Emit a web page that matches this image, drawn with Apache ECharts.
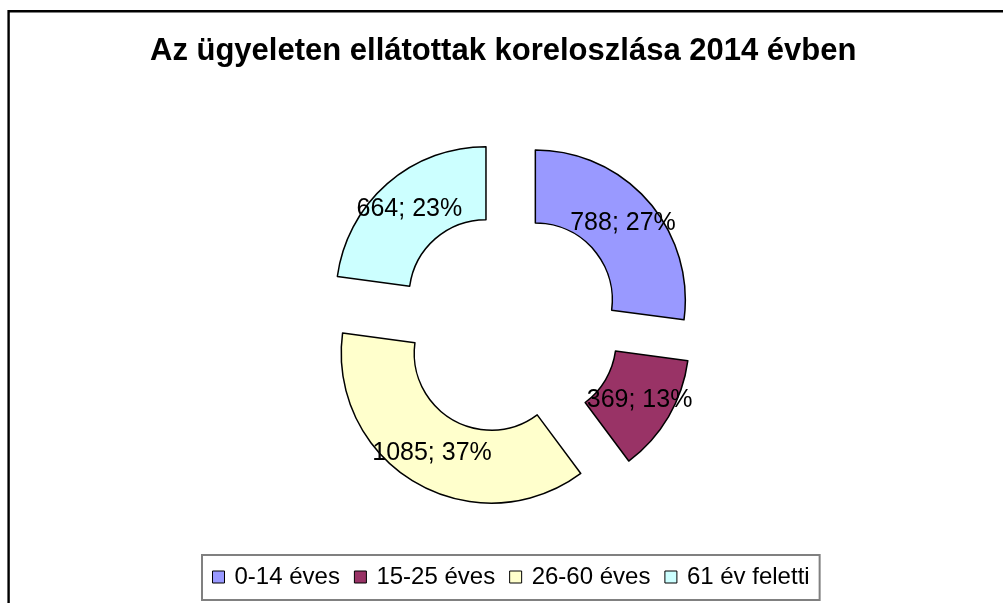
<!DOCTYPE html>
<html>
<head>
<meta charset="utf-8">
<script src="https://cdn.jsdelivr.net/npm/echarts@6/dist/echarts.min.js"></script>
<style>
  html, body { margin: 0; padding: 0; background: #ffffff; }
  #chart { width: 1003px; height: 603px; }
</style>
</head>
<body>
<div id="chart"></div>
<script>
const titleText = 'Az ügyeleten ellátottak koreloszlása 2014 évben';
const categories = ['0-14 éves', '15-25 éves', '26-60 éves', '61 év feletti'];
const values = [788, 369, 1085, 664];
const colors = ['#9999FF', '#993366', '#FFFFCC', '#CCFFFF'];

const FONT = '"Liberation Sans", Arial, sans-serif';

const chart = echarts.init(document.getElementById('chart'), null, { renderer: 'canvas' });

const pieData = categories.map((name, i) => ({
  name: name,
  value: values[i],
  selected: true,
  itemStyle: { color: colors[i] }
}));

chart.setOption({
  animation: false,
  backgroundColor: '#ffffff',
  color: colors,
  title: {
    text: titleText,
    left: 150,
    top: 36,
    padding: 0,
    textStyle: { fontFamily: FONT, fontSize: 31, fontWeight: 'bold', color: '#000000' }
  },
  legend: {
    data: categories,
    orient: 'horizontal',
    left: 202,
    top: 555,
    padding: [10, 10, 11, 10],
    itemGap: 14,
    itemWidth: 12,
    itemHeight: 12,
    icon: 'rect',
    borderColor: '#808080',
    borderWidth: 2,
    selectedMode: false,
    itemStyle: { borderColor: '#000000', borderWidth: 1 },
    textStyle: { fontFamily: FONT, fontSize: 24, color: '#000000', padding: [0, 0, 0, 5] }
  },
  graphic: [{
    type: 'rect',
    silent: true,
    z: -1,
    shape: { x: 8.6, y: 11.2, width: 1200, height: 800 },
    style: { fill: 'none', stroke: '#000000', lineWidth: 2.4 }
  }],
  series: [{
    type: 'pie',
    center: [509, 323],
    radius: [77, 150],
    startAngle: 90,
    clockwise: true,
    selectedMode: 'multiple',
    selectedOffset: 35,
    percentPrecision: 0,
    avoidLabelOverlap: false,
    itemStyle: { borderColor: '#000000', borderWidth: 1.5 },
    label: {
      show: true,
      position: 'inside',
      formatter: '{c}; {d}%',
      fontFamily: FONT,
      fontSize: 25,
      color: '#000000'
    },
    labelLine: { show: false },
    emphasis: { scale: false, disabled: true },
    select: {
      itemStyle: { borderColor: '#000000', borderWidth: 1.5 },
      label: { color: '#000000' }
    },
    data: pieData
  }]
});
</script>
</body>
</html>
